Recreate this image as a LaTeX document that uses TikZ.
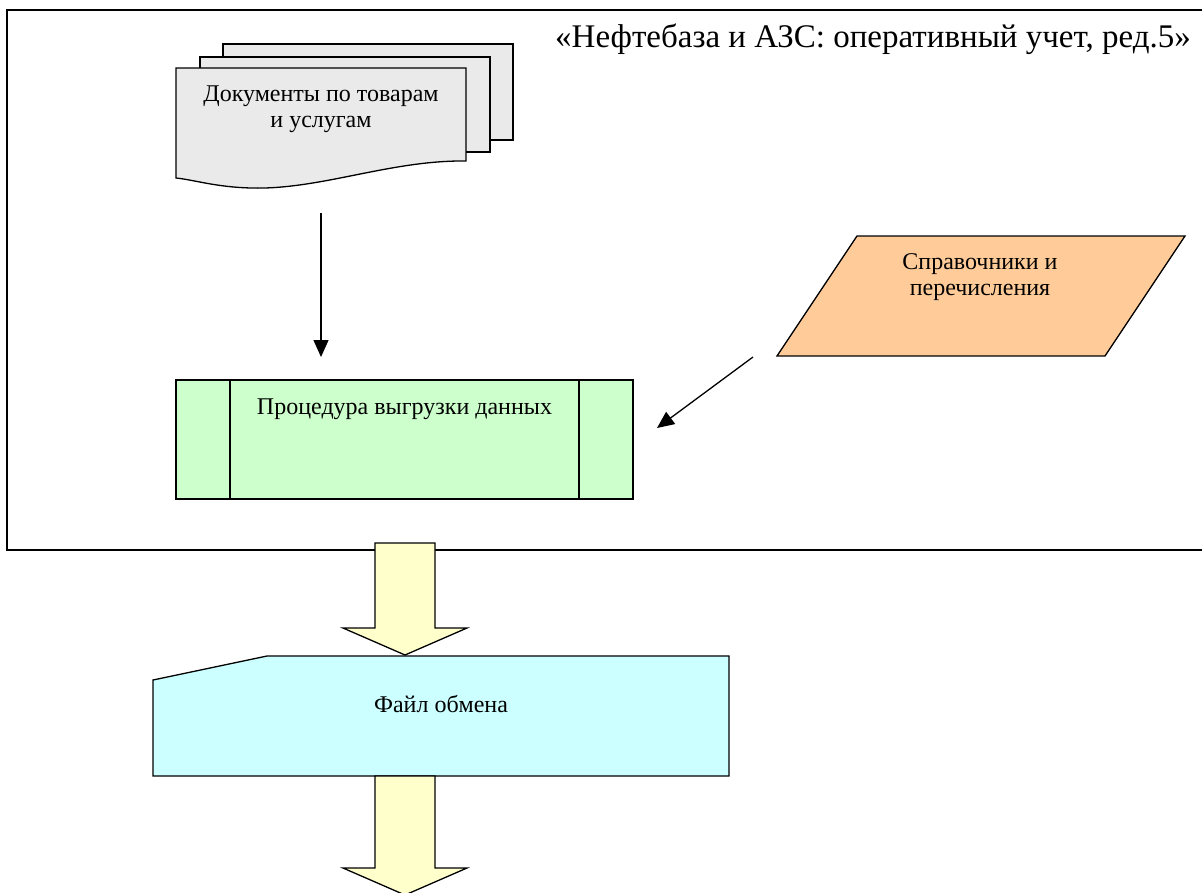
\documentclass[tikz,border=0pt]{standalone}
\usepackage{fontspec}
\setmainfont{Liberation Serif}
\usetikzlibrary{arrows.meta}
\definecolor{docgray}{HTML}{EAEAEA}
\definecolor{procgreen}{HTML}{CCFFCC}
\definecolor{refpeach}{HTML}{FFCC99}
\definecolor{filecyan}{HTML}{CCFFFF}
\definecolor{arrowyellow}{HTML}{FFFFCC}
\begin{document}
\begin{tikzpicture}[x=1pt,y=-1pt,
  outl/.style={draw=black,line width=1.3pt,line join=miter},
  lbl/.style={inner sep=0pt,align=center,font=\fontsize{24}{26.5}\selectfont},
  conn/.style={line width=1.3pt,-{Triangle[length=17pt,width=15pt]}},
  blockarrow/.style={outl,fill=arrowyellow}]
\useasboundingbox (0,0) rectangle (1202,892);
\clip (0,0) rectangle (1202,892);
\fill[white] (0,0) rectangle (1202,892);
% frame
\draw[line width=2.2pt] (1210,10) -- (7,10) -- (7,550) -- (1210,550);
% document stack
\draw[outl,fill=docgray] (223,44) rectangle (513,140);
\draw[outl,fill=docgray] (200,57) rectangle (490,152);
\draw[outl,fill=docgray] (176,68) -- (466,68) -- (466,161) .. controls (390,160) and (320,190) .. (251,188) .. controls (215,187) and (195,180) .. (176,178) -- cycle;
\node[lbl] (doctext) at (321,109) {Документы по товарам\\и услугам};
\coordinate (docout) at (321,213);
% process
\draw[outl,fill=procgreen] (176,380) rectangle (633,499);
\draw[outl] (230,380) -- (230,499) (579,380) -- (579,499);
\node[lbl,anchor=base] (proctext) at (404.5,414) {Процедура выгрузки данных};
\coordinate (procin) at (321,357);
\coordinate (procside) at (657,428);
% reference data
\draw[outl,fill=refpeach] (857,236) -- (1185,236) -- (1105,356) -- (777,356) -- cycle;
\node[lbl] (reftext) at (980,277) {Справочники и\\перечисления};
\coordinate (refout) at (753,357);
% connectors
\draw[conn] (docout) -- (procin);
\draw[conn] (refout) -- (procside);
% title
\node[inner sep=0pt,anchor=base,font=\fontsize{33}{37}\selectfont] (title) at (873,47) {«Нефтебаза и АЗС: оперативный учет, ред.5»};
% block arrow 1
\draw[blockarrow] (375,543) -- (435,543) -- (435,628) -- (467,628) -- (405,655) -- (343,628) -- (375,628) -- cycle;
% exchange file
\draw[outl,fill=filecyan] (153,680) -- (267,656) -- (729,656) -- (729,776) -- (153,776) -- cycle;
\node[lbl,anchor=base] (filetext) at (441,712) {Файл обмена};
% block arrow 2
\draw[blockarrow] (375,776) -- (435,776) -- (435,868) -- (467,868) -- (405,895) -- (343,868) -- (375,868) -- cycle;
\end{tikzpicture}
\end{document}
